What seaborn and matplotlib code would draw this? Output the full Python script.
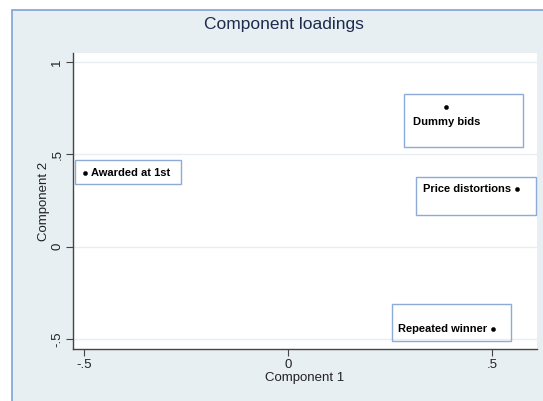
import matplotlib
matplotlib.use("Agg")
import matplotlib.pyplot as plt
import seaborn as sns
import pandas as pd
from matplotlib.patches import Rectangle
from matplotlib.transforms import IdentityTransform

variables = ["Dummy bids", "Price distortions", "Awarded at 1st", "Repeated winner"]
comp1 = [0.387, 0.561, -0.497, 0.502]
comp2 = [0.757, 0.314, 0.400, -0.443]
xticks = [-0.5, 0, 0.5]
xticklabels = ["-.5", "0", ".5"]
yticks = [-0.5, 0, 0.5, 1]
yticklabels = ["-.5", "0", ".5", "1"]

df = pd.DataFrame({"variable": variables, "Component 1": comp1, "Component 2": comp2})

sns.set_theme(style="white")
plt.rcParams["font.family"] = ["Liberation Sans", "DejaVu Sans"]

W, H = 543, 401
fig = plt.figure(figsize=(W / 100, H / 100), dpi=100)
fig.patch.set_facecolor("white")

# outer graph region with blue border (top/left visible)
fig.add_artist(Rectangle((12, -20), 600, H - 10 + 20, transform=IdentityTransform(),
                         facecolor="#e8eff2", edgecolor="#7ea3d6", linewidth=1.2, zorder=0))

ax = fig.add_axes([73 / W, (H - 349) / H, (537 - 73) / W, (349 - 53) / H])
ax.set_facecolor("white")
ax.set_xlim(-0.527, 0.61)
ax.set_ylim(-0.554, 1.05)

for yt in yticks:
    ax.axhline(yt, color="#e6eef1", lw=1.0, zorder=0)

sns.scatterplot(data=df, x="Component 1", y="Component 2", ax=ax, color="black",
                s=9, edgecolor="black", linewidth=0.3, zorder=3, legend=False)

# label style: (ha, text dx, text dy, box left, box top, box right, box bottom) in pixels relative to dot
label_style = {
    "Dummy bids": ("left", -33, -15, -42, 13, 77, -40),
    "Price distortions": ("right", -6, 0, -101, 12, 19, -26),
    "Awarded at 1st": ("left", 6, 0, -10, 13, 96, -11),
    "Repeated winner": ("right", -6, 0, -101, 25, 18, -12),
}

fig.canvas.draw()
for v, x, y in zip(variables, comp1, comp2):
    ha, tdx, tdy, bl, bt, br, bb = label_style[v]
    ax.annotate(v, xy=(x, y), xytext=(tdx, tdy), textcoords="offset pixels",
                ha=ha, va="center", fontsize=8, fontweight="bold", color="black", zorder=4)
    px, py = ax.transData.transform((x, y))
    fig.add_artist(Rectangle((px + bl, py + bb), br - bl, bt - bb, transform=IdentityTransform(),
                             facecolor="none", edgecolor="#8cabd9", linewidth=1.0, zorder=5))

ax.set_xticks(xticks)
ax.set_xticklabels(xticklabels)
ax.set_yticks(yticks)
ax.set_yticklabels(yticklabels, rotation=90, va="center")
ax.tick_params(axis="both", which="both", direction="out", length=5, width=0.8,
               color="#444444", labelsize=9.5, labelcolor="#222222", pad=2,
               bottom=True, left=True)
for s in ["top", "right"]:
    ax.spines[s].set_visible(False)
for s in ["left", "bottom"]:
    ax.spines[s].set_color("#444444")
    ax.spines[s].set_linewidth(1.0)

ax.set_xlabel("Component 1", fontsize=9.5, color="#222222", labelpad=1)
ax.set_ylabel("Component 2", fontsize=9.5, color="#222222", labelpad=1)

fig.text(284 / W, 1 - 25 / H, "Component loadings", ha="center", va="center",
         fontsize=12.5, color="#1c2b4e")

fig.savefig("out.png", dpi=100, facecolor=fig.get_facecolor())
